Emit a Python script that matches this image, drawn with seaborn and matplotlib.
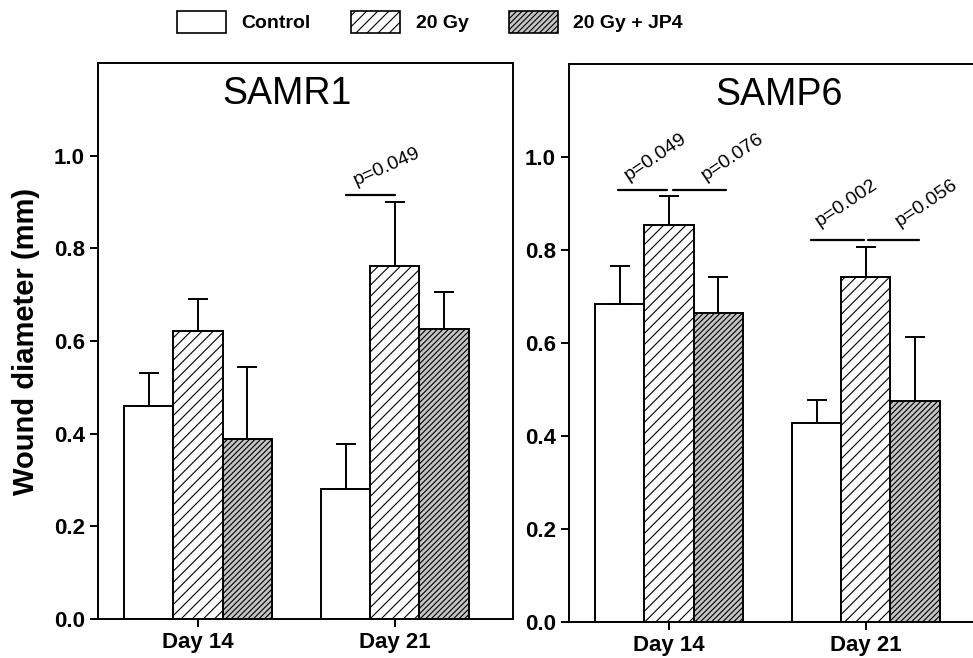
import matplotlib
matplotlib.use("Agg")
import matplotlib.pyplot as plt
from matplotlib.patches import Patch
import seaborn as sns
import pandas as pd

# dati
days = ["Day 14", "Day 21"]
treatments = ["Control", "20 Gy", "20 Gy + JP4"]

samr1_control = [0.459, 0.280]
samr1_20gy = [0.621, 0.761]
samr1_jp4 = [0.388, 0.625]
samr1_err_control = [0.071, 0.097]
samr1_err_20gy = [0.069, 0.138]
samr1_err_jp4 = [0.155, 0.080]

samp6_control = [0.683, 0.429]
samp6_20gy = [0.853, 0.743]
samp6_jp4 = [0.664, 0.476]
samp6_err_control = [0.082, 0.049]
samp6_err_20gy = [0.063, 0.063]
samp6_err_jp4 = [0.077, 0.138]

sns.set_style("ticks")
plt.rcParams['font.family'] = ["Liberation Sans", "DejaVu Sans"]
plt.rcParams['hatch.linewidth'] = 0.8
for chiave in ['text.color', 'axes.labelcolor', 'xtick.color', 'ytick.color', 'axes.edgecolor']:
    plt.rcParams[chiave] = 'black'


def costruisci_df(c, g, j):
    righe = []
    for i, d in enumerate(days):
        righe.append((d, treatments[0], c[i]))
        righe.append((d, treatments[1], g[i]))
        righe.append((d, treatments[2], j[i]))
    return pd.DataFrame(righe, columns=["day", "treatment", "diameter"])


stili = {
    "Control": dict(facecolor="white", hatch=None),
    "20 Gy": dict(facecolor="white", hatch="///"),
    "20 Gy + JP4": dict(facecolor="#c4c4c4", hatch="//////"),
}

fig = plt.figure(figsize=(9.73, 6.58), dpi=100)
ax1 = fig.add_axes([0.1007, 0.0593, 0.4265, 0.845])
ax2 = fig.add_axes([0.5848, 0.0547, 0.4265, 0.848])

pannelli = [
    (ax1, "SAMR1", costruisci_df(samr1_control, samr1_20gy, samr1_jp4),
     [samr1_err_control, samr1_err_20gy, samr1_err_jp4], 0.455),
    (ax2, "SAMP6", costruisci_df(samp6_control, samp6_20gy, samp6_jp4),
     [samp6_err_control, samp6_err_20gy, samp6_err_jp4], 0.507),
]

for ax, titolo, df, errori, tx in pannelli:
    sns.barplot(data=df, x="day", y="diameter", hue="treatment", order=days,
                hue_order=treatments, width=0.75, errorbar=None, legend=False,
                palette=["white"] * 3, edgecolor="black", linewidth=1.4,
                saturation=1, ax=ax)
    for cont, tr, err in zip(ax.containers, treatments, errori):
        xs, ys = [], []
        for bar in cont:
            bar.set_facecolor(stili[tr]["facecolor"])
            if stili[tr]["hatch"]:
                bar.set_hatch(stili[tr]["hatch"])
            xs.append(bar.get_x() + bar.get_width() / 2)
            ys.append(bar.get_height())
        ax.errorbar(xs, ys, yerr=[[0] * len(err), err], fmt="none",
                    ecolor="black", elinewidth=1.4, capsize=7, capthick=1.4,
                    zorder=1)
    ax.set_xlim(-0.508, 1.6)
    ax.set_ylim(0, 1.2)
    ax.set_yticks([0.0, 0.2, 0.4, 0.6, 0.8, 1.0])
    ax.set_yticklabels(["0.0", "0.2", "0.4", "0.6", "0.8", "1.0"])
    ax.set_xlabel("")
    ax.set_ylabel("")
    for s in ax.spines.values():
        s.set_linewidth(1.4)
        s.set_visible(True)
    ax.tick_params(axis="both", width=1.4, length=6, direction="out")
    for lab in ax.get_yticklabels() + ax.get_xticklabels():
        lab.set_fontweight("bold")
        lab.set_fontsize(16)
    ax.text(tx, 0.945, titolo, transform=ax.transAxes, ha="center",
            va="center", fontsize=27)

ax1.set_ylabel("Wound diameter (mm)", fontsize=21, fontweight="bold")
ax1.yaxis.set_label_coords(-0.14, 0.5)

# linee di significatività
ax1.plot([0.75, 1.0], [0.916, 0.916], color="black", lw=1.6)
ax1.text(0.96, 0.975, "p=0.049", rotation=24, ha="center", va="center",
         fontsize=14)

ax2.plot([-0.26, -0.01], [0.929, 0.929], color="black", lw=1.6)
ax2.plot([0.02, 0.29], [0.929, 0.929], color="black", lw=1.6)
ax2.plot([0.72, 0.99], [0.821, 0.821], color="black", lw=1.6)
ax2.plot([1.01, 1.27], [0.821, 0.821], color="black", lw=1.6)
ax2.text(-0.07, 1.0, "p=0.049", rotation=34, ha="center", va="center", fontsize=14)
ax2.text(0.32, 1.0, "p=0.076", rotation=34, ha="center", va="center", fontsize=14)
ax2.text(0.90, 0.90, "p=0.002", rotation=34, ha="center", va="center", fontsize=14)
ax2.text(1.31, 0.90, "p=0.056", rotation=34, ha="center", va="center", fontsize=14)

# legenda
maniglie = [Patch(facecolor=stili[t]["facecolor"], hatch=stili[t]["hatch"],
                  edgecolor="black", linewidth=1.2, label=t) for t in treatments]
fig.legend(handles=maniglie, loc="center", bbox_to_anchor=(0.442, 0.967),
           ncol=3, frameon=False, handlelength=2.5, handleheight=1.35,
           handletextpad=0.8, columnspacing=2.1,
           prop={"weight": "bold", "size": 14})

fig.savefig("out.png", dpi=100)
